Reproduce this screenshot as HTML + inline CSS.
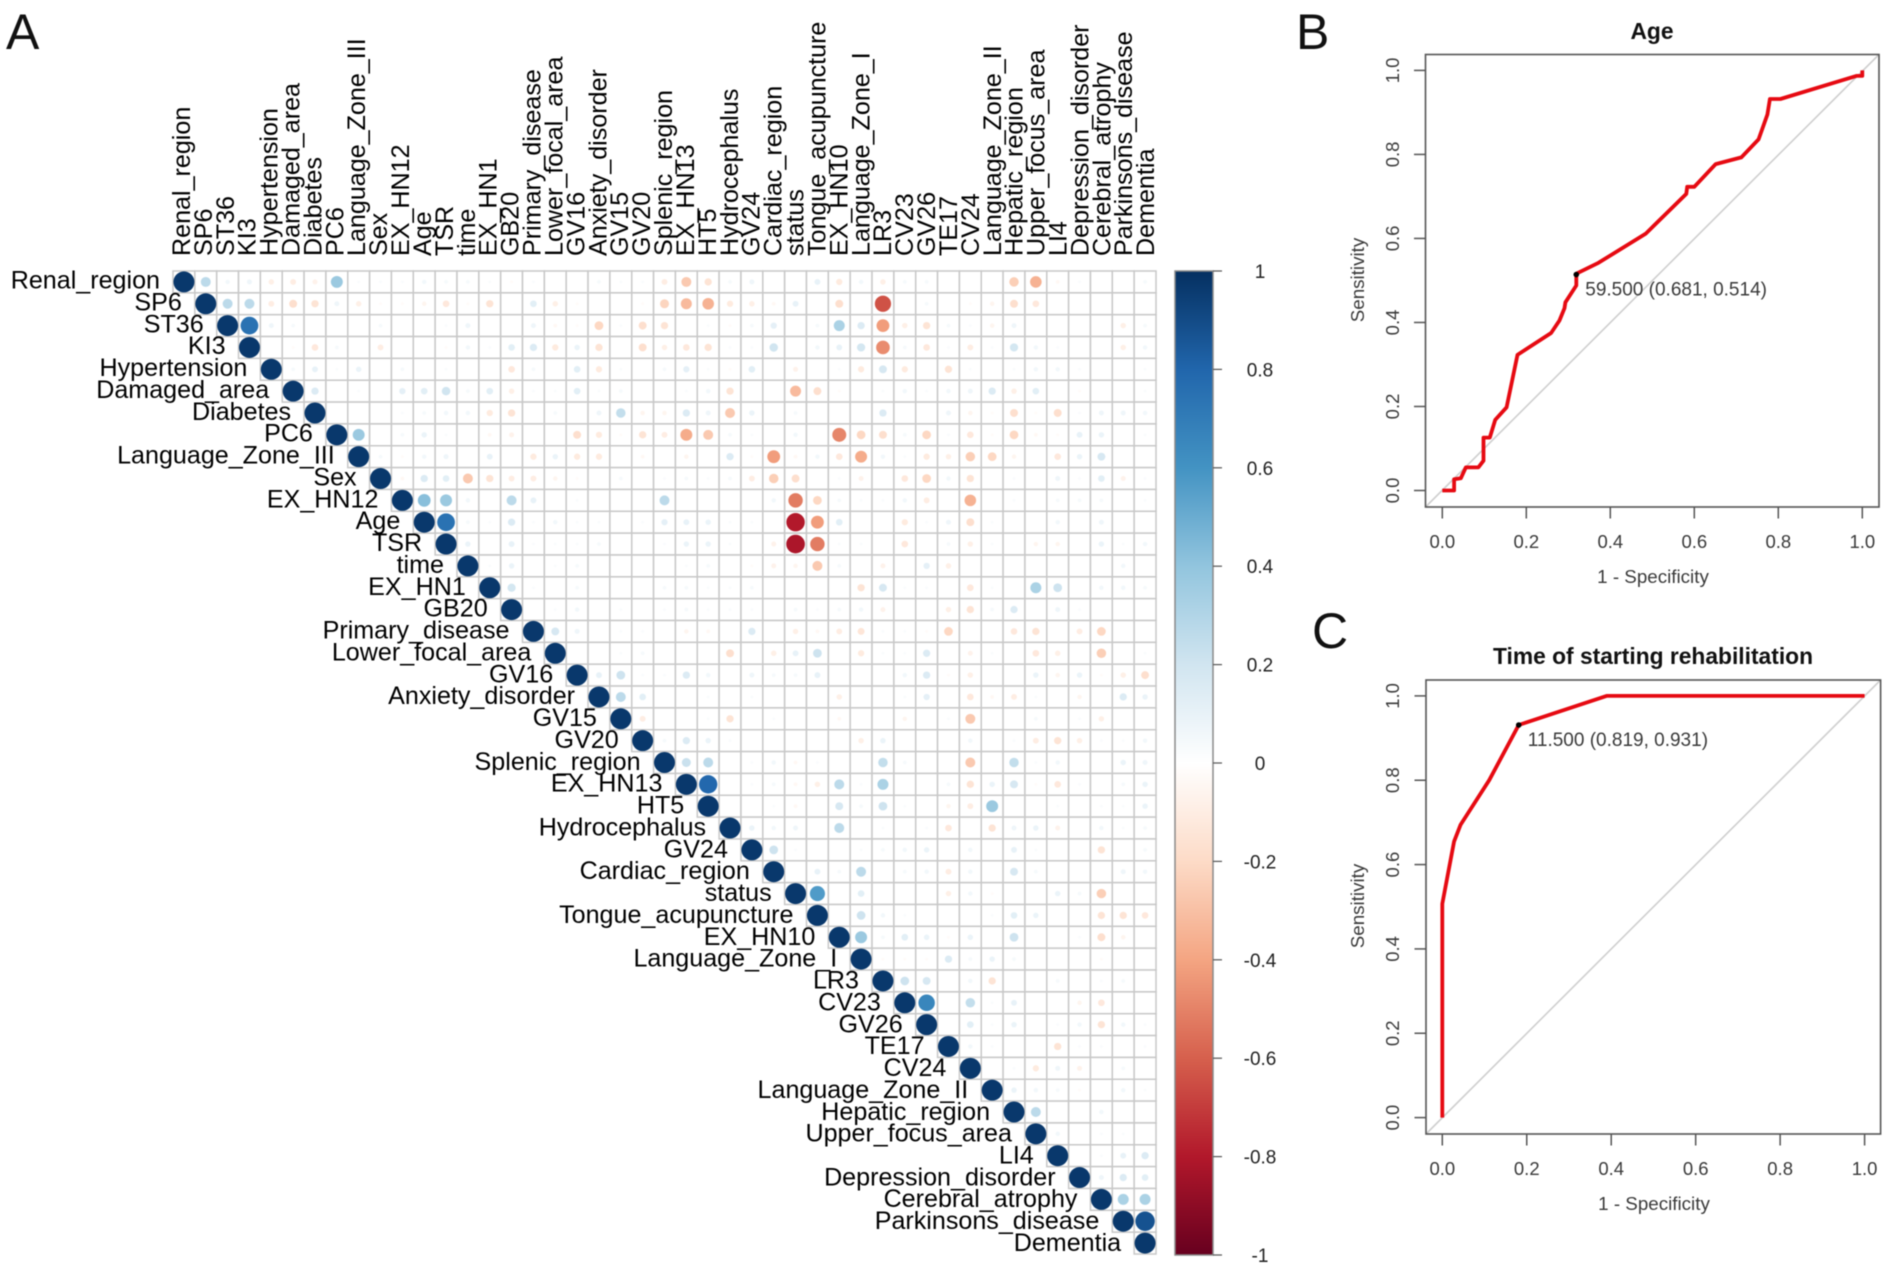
<!DOCTYPE html>
<html lang="en">
<head>
<meta charset="utf-8">
<title>Correlation matrix and ROC curves</title>
<style>
html,body{margin:0;padding:0;background:#fff;}
#figure{display:block;width:1902px;height:1280px;filter:blur(0.55px);font-family:"Liberation Sans",Arial,sans-serif;}
</style>
</head>
<body>
<svg id="figure" xmlns="http://www.w3.org/2000/svg" width="1902" height="1280" viewBox="0 0 1902 1280">
  <defs><linearGradient id="cbGrad" x1="0" y1="0" x2="0" y2="1"></linearGradient></defs>
  <rect x="0" y="0" width="1902" height="1280" fill="#ffffff"></rect>
  <text x="6" y="49" font-size="50" fill="#111">A</text>
  <text x="1296" y="49" font-size="50" fill="#111">B</text>
  <text x="1312" y="648" font-size="50" fill="#111">C</text>
  <g id="corr-grid"></g>
  <g id="corr-dots"></g>
  <g id="row-labels"></g>
  <g id="col-labels"></g>
  <g id="colorbar"></g>
  <g id="roc-age"></g>
  <g id="roc-time"></g>
</svg>
<script>
const variables = ["Renal_region","SP6","ST36","KI3","Hypertension","Damaged_area","Diabetes","PC6","Language_Zone_III","Sex","EX_HN12","Age","TSR","time","EX_HN1","GB20","Primary_disease","Lower_focal_area","GV16","Anxiety_disorder","GV15","GV20","Splenic_region","EX_HN13","HT5","Hydrocephalus","GV24","Cardiac_region","status","Tongue_acupuncture","EX_HN10","Language_Zone_I","LR3","CV23","GV26","TE17","CV24","Language_Zone_II","Hepatic_region","Upper_focus_area","LI4","Depression_disorder","Cerebral_atrophy","Parkinsons_disease","Dementia"];

// Upper triangle of the correlation matrix, in hundredths. Each row starts just right of the diagonal.
const corrRows = [
[20,3,4,-5,-6,-4,30,1,1,1,3,2,2,1,-1,1,0,0,2,1,1,-6,-20,-10,2,4,0,0,6,-7,3,-5,2,2,0,0,0,-18,-28,-2,1,0,0,2],
[20,20,-6,-12,-10,4,-5,-1,-1,-3,-8,-1,-10,0,8,-5,-1,0,0,-1,-16,-25,-28,-7,-5,-2,6,0,-12,0,-58,0,2,0,-1,-3,-12,-8,0,0,0,0,0],
[70,4,2,0,0,0,2,0,0,1,4,0,0,4,-2,-1,-15,1,-12,-10,0,1,-1,2,7,0,2,25,10,-35,-5,-10,2,1,-3,4,0,0,0,0,-5,2],
[0,-1,-8,2,0,-6,0,0,-1,3,1,8,10,-7,5,-10,0,-12,-5,-8,-10,1,1,14,0,3,6,13,-40,2,-8,1,-6,1,13,3,1,0,0,-5,3],
[2,6,1,5,0,2,0,1,0,0,-8,2,0,8,-7,1,0,2,7,1,-1,8,0,-4,0,1,-7,12,-7,0,-10,1,0,1,3,3,1,0,0,1],
[10,0,1,0,7,8,14,2,8,-5,1,1,8,1,2,0,0,1,3,-10,0,0,-25,-12,-1,0,1,3,1,3,4,10,-5,8,0,-1,0,0,1],
[0,0,0,1,2,3,3,-7,-10,0,2,0,4,18,-3,-3,10,4,-20,5,0,2,0,0,0,10,0,0,4,-3,-1,-12,-1,-12,1,4,4,3],
[30,0,2,5,1,0,-2,-4,0,0,-12,-7,-1,-10,-6,-30,-20,2,1,0,3,0,-42,-15,-12,2,-15,1,-8,-1,-15,-2,-1,6,5,0,1],
[2,-1,3,4,0,6,0,-7,5,-7,-7,0,-2,0,-3,0,10,-1,-35,-2,3,-8,-30,3,1,-7,-5,-18,-15,-3,0,-8,5,12,0,0],
[-2,10,8,-20,-10,-6,-6,-3,-1,0,2,0,1,2,1,2,-6,-18,-12,0,1,-4,0,-8,-15,3,-10,0,1,0,4,1,8,-4,1],
[35,30,3,0,20,6,0,1,0,0,0,20,0,0,0,0,3,-45,-15,2,1,1,3,-6,0,-28,0,1,0,2,2,2,0,1],
[70,2,1,10,1,3,1,1,0,1,7,6,5,1,1,0,-76,-35,8,0,0,-7,1,4,-12,1,0,0,3,0,4,0,0],
[5,0,6,1,1,1,2,0,0,1,5,5,1,0,-4,-78,-45,1,1,0,-8,0,2,-5,1,0,-3,-3,0,5,1,3],
[1,5,0,1,2,0,0,0,0,1,2,0,-1,-4,-3,-20,2,0,-4,0,7,-5,0,0,0,0,0,0,0,3,0],
[13,1,0,2,0,0,0,2,2,1,1,2,0,0,0,0,-10,12,1,1,0,-8,1,0,25,15,0,3,3,2],
[0,1,3,0,1,0,1,2,1,1,1,0,2,1,2,3,-4,0,0,-5,-10,2,10,0,4,1,0,0,0],
[12,4,0,1,1,0,-3,-2,0,10,0,-5,-2,-6,-9,1,1,-1,-15,0,0,-8,-10,0,-6,-15,0,0],
[0,0,1,2,0,0,0,-12,0,-5,6,15,0,-7,1,1,10,0,-4,1,0,-8,-5,0,-18,0,1],
[6,15,1,1,10,3,0,4,2,2,6,0,0,0,3,10,-1,-5,0,0,5,-3,5,-1,-5,-12],
[20,8,0,0,1,0,1,0,0,0,-5,0,0,1,7,0,-8,-2,-6,1,0,-3,0,10,5],
[-6,0,0,1,-10,0,1,0,0,-2,0,0,-3,0,1,-20,0,0,2,0,1,-5,0,0],
[2,10,5,1,0,0,0,0,0,-5,5,0,0,0,3,0,1,-6,-10,-5,1,1,3],
[16,20,0,1,3,-2,1,0,0,18,2,0,0,-20,0,18,1,3,0,0,5,4],
[75,0,1,2,-2,-5,20,1,25,0,0,2,-10,5,12,-1,-8,1,0,2,5],
[0,0,1,-2,0,12,2,15,1,0,-3,-6,30,0,0,1,0,1,1,5],
[5,3,4,0,20,0,1,0,1,-8,0,-10,4,5,-4,0,3,1,2],
[15,1,0,0,1,2,3,5,0,3,0,6,1,0,0,-10,0,2],
[0,6,2,20,0,2,3,-6,3,0,12,2,0,0,0,4,3],
[50,0,8,0,0,0,-5,3,-1,0,0,5,2,-18,0,0],
[0,15,3,1,0,0,0,1,8,5,0,0,-10,-10,-8],
[30,2,8,5,-1,5,0,15,0,0,1,-12,-3,0],
[-1,-1,-1,10,2,5,2,0,0,0,-1,0,0],
[15,12,0,3,-10,0,0,2,0,1,2,0],
[60,0,18,1,6,0,0,-3,-8,0,0],
[0,8,1,5,0,1,3,-10,3,1],
[3,1,0,0,-10,1,1,0,1],
[0,1,-7,4,-4,0,2,0],
[5,3,2,-1,0,3,1],
[20,0,0,3,0,0],
[3,0,1,1,0],
[0,1,6,10],
[4,10,8],
[25,25],
[85],
[]
];

const colorStops = ["#67001F","#B2182B","#D6604D","#F4A582","#FDDBC7","#FFFFFF","#D1E5F0","#92C5DE","#4393C3","#2166AC","#053061"];
const colorbarTicks = [1,0.8,0.6,0.4,0.2,0,-0.2,-0.4,-0.6,-0.8,-1];
const colorbarTickLabels = ["1","0.8","0.6","0.4","0.2","0","-0.2","-0.4","-0.6","-0.8","-1"];

const rocTicks = [0,0.2,0.4,0.6,0.8,1];
const rocTickLabels = ["0.0","0.2","0.4","0.6","0.8","1.0"];

const ageFpr = [0,0.028,0.028,0.044,0.056,0.086,0.098,0.098,0.113,0.126,0.153,0.179,0.259,0.279,0.291,0.293,0.319,0.319,0.372,0.484,0.581,0.583,0.6,0.651,0.712,0.753,0.774,0.78,0.805,0.986,1,1];
const ageTpr = [0,0,0.027,0.029,0.055,0.055,0.071,0.126,0.126,0.168,0.198,0.323,0.375,0.405,0.434,0.448,0.488,0.516,0.542,0.611,0.706,0.723,0.723,0.777,0.793,0.836,0.895,0.932,0.932,0.987,0.987,1];
const ageBest = [0.319,0.514];

const timeFpr = [0,0,0.028,0.043,0.111,0.181,0.389,1];
const timeTpr = [0,0.507,0.655,0.694,0.8,0.931,1,1];
const timeBest = [0.181,0.931];

const SVGNS = "http://www.w3.org/2000/svg";
function mk(tag, attrs, parent, text) {
  const el = document.createElementNS(SVGNS, tag);
  for (const k in attrs) el.setAttribute(k, attrs[k]);
  if (text !== undefined) el.textContent = text;
  parent.appendChild(el);
  return el;
}
function hexToRgb(h) {
  return [parseInt(h.slice(1,3),16),parseInt(h.slice(3,5),16),parseInt(h.slice(5,7),16)];
}
function corrColor(v) {
  const t = (Math.max(-1,Math.min(1,v)) + 1) / 2 * (colorStops.length - 1);
  const i = Math.min(Math.floor(t), colorStops.length - 2);
  const f = t - i;
  const a = hexToRgb(colorStops[i]), b = hexToRgb(colorStops[i+1]);
  return "rgb(" + a.map((c,n)=>Math.round(c+(b[n]-c)*f)).join(",") + ")";
}
// Circles look a little stronger than the raw scale at low values in the source figure.
function dotColor(v) {
  return corrColor(Math.sign(v) * Math.pow(Math.abs(v), 0.82));
}

/* ---- correlation matrix ---- */
const gridLeft = 173, gridTop = 271, gridSize = 983;
const cell = gridSize / variables.length;
const colX = j => gridLeft + cell * (j + 0.5);
const rowY = i => gridTop + cell * (i + 0.5);
const radius = v => 10 * Math.sqrt(Math.abs(v)) + 0.5;

const gridG = document.getElementById("corr-grid");
const dotsG = document.getElementById("corr-dots");
const rowG = document.getElementById("row-labels");
const colG = document.getElementById("col-labels");

variables.forEach((name, i) => {
  for (let j = i; j < variables.length; j++) {
    const c = mk("rect", {x:colX(j)-cell/2, y:rowY(i)-cell/2, width:cell, height:cell, fill:"#fff", stroke:"#c8c8c8", "stroke-width":1.5}, gridG);
    
    
  }
});
variables.forEach((name, i) => {
  const d = mk("circle", {cx:colX(i), cy:rowY(i), r:radius(1), fill:corrColor(0.97)}, dotsG);
  
  
  corrRows[i].forEach((pct, k) => {
    if (pct === 0) return;
    const v = pct / 100, j = i + k + 1;
    const o = mk("circle", {cx:colX(j), cy:rowY(i), r:radius(v), fill:dotColor(v)}, dotsG);
    
    
  });
});
variables.forEach((name, i) => {
  const rl = mk("text", {x:colX(i)-cell/2-13, y:rowY(i)+6.6+i*0.03, "text-anchor":"end", "font-size":25.1, fill:"#000"}, rowG, name);
  
  
  const bx = colX(i)+6+i*0.07, by = 256;
  const cl = mk("text", {x:bx, y:by, transform:"rotate(-90 "+bx+" "+by+")", "font-size":25.1, fill:"#000"}, colG, name);
  
  
});

/* ---- colorbar ---- */
const cbLeft = 1175, cbRight = 1213, cbTop = 271, cbBottom = 1255;
const cbY = v => cbTop + (1 - v) / 2 * (cbBottom - cbTop);
const cbG = document.getElementById("colorbar");
const grad = document.getElementById("cbGrad");
colorStops.slice().reverse().forEach((col, i) => {
  mk("stop", {offset:(i/(colorStops.length-1)), "stop-color":col}, grad);
});
const cbRect = mk("rect", {x:cbLeft, y:cbTop, width:cbRight-cbLeft, height:cbBottom-cbTop, fill:"url(#cbGrad)", stroke:"#8a8a8a", "stroke-width":1.5}, cbG);


colorbarTicks.forEach((v, i) => {
  const t = mk("line", {x1:cbRight, x2:cbRight+9, y1:cbY(v), y2:cbY(v), stroke:"#555", "stroke-width":1.2}, cbG);
  
  
  const l = mk("text", {x:1260, y:cbY(v)+7, "text-anchor":"middle", "font-size":19, fill:"#222"}, cbG, colorbarTickLabels[i]);
  
  
});

/* ---- ROC panels ---- */
function drawRoc(g, o) {
  const sx = v => o.x0 + v * (o.x1 - o.x0);
  const sy = v => o.y0 + v * (o.y1 - o.y0);
  const ink = "#3a3a3a";

  const diag = mk("line", {x1:o.left, y1:o.bottom, x2:o.right, y2:o.top, stroke:"#cfcfcf", "stroke-width":1.6}, g);
  
  

  const pts = o.fpr.map((f, i) => sx(f).toFixed(1) + "," + sy(o.tpr[i]).toFixed(1)).join(" ");
  const curve = mk("polyline", {points:pts, fill:"none", stroke:"#e60a12", "stroke-width":3.8, "stroke-linejoin":"round"}, g);
  
  

  const box = mk("rect", {x:o.left, y:o.top, width:o.right-o.left, height:o.bottom-o.top, fill:"none", stroke:"#555", "stroke-width":1.6}, g);
  
  

  rocTicks.forEach((v, i) => {
    const xt = mk("line", {x1:sx(v), x2:sx(v), y1:o.bottom, y2:o.bottom+11.5, stroke:"#555", "stroke-width":1.5}, g);
    
    
    const xl = mk("text", {x:sx(v), y:o.bottom+41, "text-anchor":"middle", "font-size":18.5, fill:ink}, g, rocTickLabels[i]);
    
    
    const yt = mk("line", {x1:o.left-11.5, x2:o.left, y1:sy(v), y2:sy(v), stroke:"#555", "stroke-width":1.5}, g);
    
    
    const yl = mk("text", {x:1399, y:sy(v), "text-anchor":"middle", "font-size":18.5, fill:ink, transform:"rotate(-90 1399 "+sy(v)+")"}, g, rocTickLabels[i]);
    
    
  });

  const dot = mk("circle", {cx:sx(o.best[0]), cy:sy(o.best[1]), r:2.8, fill:"#000"}, g);
  
  

  const ann = mk("text", {x:sx(o.best[0])+9, y:sy(o.best[1])+21, "font-size":19, fill:ink}, g, o.note);
  
  

  const title = mk("text", {x:o.titleX, y:o.titleY, "text-anchor":"middle", "font-size":22.8, "font-weight":"bold", fill:"#111"}, g, o.title);
  
  

  const xa = mk("text", {x:o.titleX+1, y:o.bottom+76, "text-anchor":"middle", "font-size":18.8, fill:ink}, g, "1 - Specificity");
  
  

  const ya = mk("text", {x:1364, y:o.yTitleY, "text-anchor":"middle", "font-size":18.8, fill:ink, transform:"rotate(-90 1364 "+o.yTitleY+")"}, g, "Sensitivity");
  
  
}

drawRoc(document.getElementById("roc-age"), {
  left:1425.5, right:1879, top:54.5, bottom:507,
  x0:1442.3, x1:1862.3, y0:490.5, y1:70.4,
  fpr:ageFpr, tpr:ageTpr, best:ageBest,
  note:"59.500 (0.681, 0.514)", title:"Age",
  titleX:1652, titleY:39, yTitleY:280
});
drawRoc(document.getElementById("roc-time"), {
  left:1426, right:1880.6, top:680, bottom:1134,
  x0:1442.3, x1:1864.6, y0:1117.6, y1:695.9,
  fpr:timeFpr, tpr:timeTpr, best:timeBest,
  note:"11.500 (0.819, 0.931)", title:"Time of starting rehabilitation",
  titleX:1653, titleY:664, yTitleY:906
});
</script>
</body>
</html>
